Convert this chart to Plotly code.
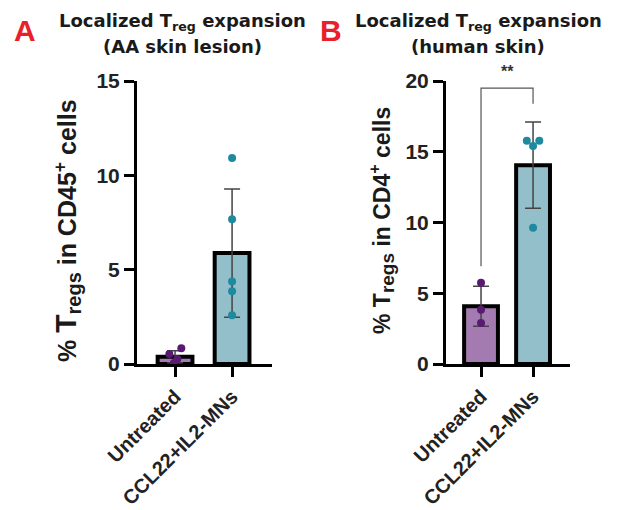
import plotly.graph_objects as go

# ---------------- data ----------------
categories = ["Untreated", "CCL22+IL2-MNs"]

# Panel A (AA skin lesion) - % Tregs in CD45+ cells
a_means = [0.38, 5.88]
a_sd = [0.32, 3.40]
a_untreated_pts = [0.53, 0.84, 0.26, 0.05]
a_ccl22_pts = [10.92, 7.67, 4.37, 3.85, 2.58]

# Panel B (human skin) - % Tregs in CD4+ cells
b_means = [4.08, 14.05]
b_sd = [1.42, 3.05]
b_untreated_pts = [5.75, 3.83, 2.89]
b_ccl22_pts = [15.77, 15.77, 15.40, 9.63]

a_yticks = [0, 5, 10, 15]
b_yticks = [0, 5, 10, 15, 20]

# small horizontal scatter offsets for the dot plots (category units)
a_unt_jit = [-0.1, 0.11, 0.04, -0.02]
a_ccl_jit = [0, 0, 0, 0, 0]
b_unt_jit = [0, 0, 0]
b_ccl_jit = [-0.12, 0.12, 0, 0]

# ---------------- style ----------------
PURPLE_FILL = "#a47bb0"
PURPLE_DOT = "#5b1a72"
TEAL_FILL = "#93bfca"
TEAL_DOT = "#1e8a9e"
FONT = "Liberation Sans, Arial, sans-serif"
TFONT = "DejaVu Sans, sans-serif"

fig = go.Figure()

def add_panel(xa, ya, means, sd, unt, ccl, unt_j, ccl_j, bw):
    xs = [0, 1]
    fig.add_trace(go.Bar(
        x=xs, y=means, width=bw,
        marker=dict(color=[PURPLE_FILL, TEAL_FILL], line=dict(color="black", width=4)),
        xaxis=xa, yaxis=ya, showlegend=False, hoverinfo="skip"))
    fig.add_trace(go.Scatter(
        x=xs, y=means, mode="markers", marker=dict(size=1, color="rgba(0,0,0,0)"),
        error_y=dict(type="data", array=sd, visible=True, color="#444444", thickness=1.5, width=8),
        xaxis=xa, yaxis=ya, showlegend=False, hoverinfo="skip"))
    fig.add_trace(go.Scatter(
        x=[0 + j for j in unt_j], y=unt, mode="markers",
        marker=dict(size=8, color=PURPLE_DOT),
        xaxis=xa, yaxis=ya, showlegend=False))
    fig.add_trace(go.Scatter(
        x=[1 + j for j in ccl_j], y=ccl, mode="markers",
        marker=dict(size=8, color=TEAL_DOT),
        xaxis=xa, yaxis=ya, showlegend=False))

add_panel("x", "y", a_means, a_sd, a_untreated_pts, a_ccl22_pts, a_unt_jit, a_ccl_jit, 0.61)
add_panel("x2", "y2", b_means, b_sd, b_untreated_pts, b_ccl22_pts, b_unt_jit, b_ccl_jit, 0.65)

W, H = 618, 510
def px_x(p): return p / W
def px_y(p): return 1 - p / H

axis_common = dict(
    showline=True, linecolor="black", linewidth=3, ticks="outside", ticklen=10,
    tickwidth=2.5, tickcolor="black", showgrid=False, zeroline=False,
    automargin=False,
)
ytick_font = dict(family=FONT, size=21, color="#222222", weight="bold")
xtick_font = dict(family=FONT, size=20, color="#222222", weight="bold")

fig.update_layout(
    width=W, height=H, margin=dict(l=0, r=0, t=0, b=0, pad=0), autosize=False,
    plot_bgcolor="white", paper_bgcolor="white",
    xaxis=dict(domain=[px_x(137), px_x(272)], range=[-0.667, 1.70],
               tickvals=[0, 1], ticktext=categories, tickangle=-45, anchor="y",
               tickfont=xtick_font, **axis_common),
    yaxis=dict(domain=[px_y(364), px_y(81)], range=[0, 15], tickvals=a_yticks,
               anchor="x", tickfont=ytick_font, **axis_common),
    xaxis2=dict(domain=[px_x(446), px_x(570)], range=[-0.673, 1.71],
                tickvals=[0, 1], ticktext=categories, tickangle=-45, anchor="y2",
                tickfont=xtick_font, **axis_common),
    yaxis2=dict(domain=[px_y(364), px_y(81)], range=[0, 20], tickvals=b_yticks,
                anchor="x2", tickfont=ytick_font, **axis_common),
)

annots = [
    # panel letters
    dict(text="<b>A</b>", x=px_x(25), y=px_y(30), font=dict(family=FONT, size=30, color="#e8202a")),
    dict(text="<b>B</b>", x=px_x(331), y=px_y(30), font=dict(family=FONT, size=30, color="#e8202a")),
    # titles
    dict(text="<b>Localized T<sub>reg</sub> expansion</b>", x=px_x(182), y=px_y(22),
         font=dict(family=TFONT, size=18, color="#1a1a1a")),
    dict(text="<b>(AA skin lesion)</b>", x=px_x(182), y=px_y(46),
         font=dict(family=TFONT, size=18, color="#1a1a1a")),
    dict(text="<b>Localized T<sub>reg</sub> expansion</b>", x=px_x(478), y=px_y(22),
         font=dict(family=TFONT, size=18, color="#1a1a1a")),
    dict(text="<b>(human skin)</b>", x=px_x(478), y=px_y(46),
         font=dict(family=TFONT, size=18, color="#1a1a1a")),
    # y axis titles
    dict(text="<b>% <span style='font-size:30px'>T</span><sub><span style='font-size:20px'>regs</span></sub> in CD45<sup>+</sup> cells</b>",
         x=px_x(67), y=px_y(231), textangle=-90,
         font=dict(family=FONT, size=25, color="#1a1a1a")),
    dict(text="<b>% T<sub><span style='font-size:19px'>regs</span></sub> in CD4<sup>+</sup> cells</b>",
         x=px_x(381), y=px_y(220), textangle=-90,
         font=dict(family=FONT, size=23, color="#1a1a1a")),
]
for a in annots:
    a.update(xref="paper", yref="paper", showarrow=False, xanchor="center", yanchor="middle")
    fig.add_annotation(**a)

# significance bracket in panel B
fig.add_shape(type="path", xref="x2", yref="y2",
              path="M 0 6.9 L 0 19.5 L 1 19.5 L 1 18.4",
              line=dict(color="#555555", width=1.2))
fig.add_annotation(text="<b>**</b>", xref="x2", yref="paper", x=0.5, y=px_y(72),
                   yanchor="middle", xanchor="center", showarrow=False,
                   font=dict(family=FONT, size=16, color="#333333"))

fig.write_html("out.html", config={"displayModeBar": False},
               post_script="document.body.style.margin='0px';document.body.style.overflow='hidden';")
